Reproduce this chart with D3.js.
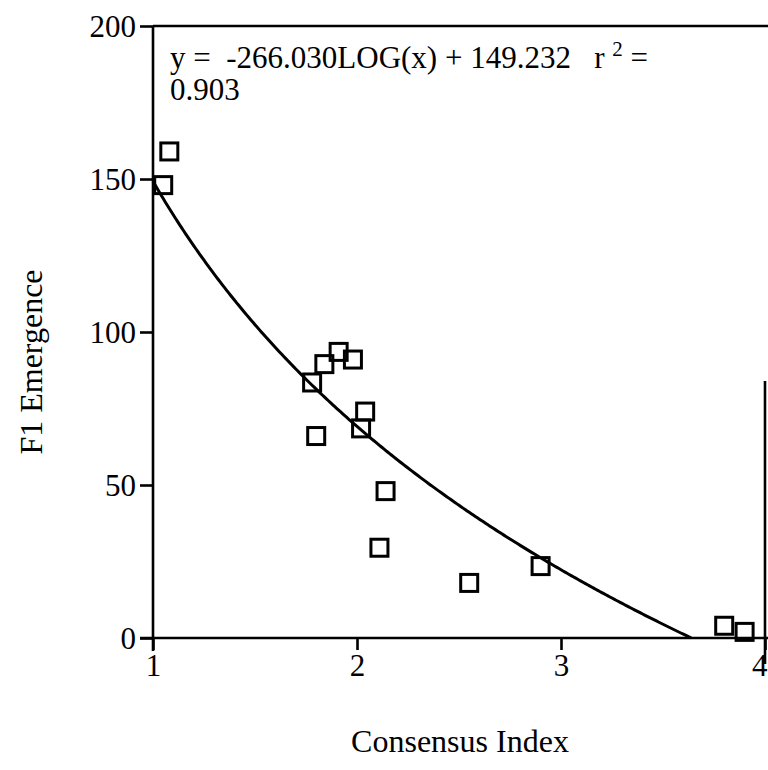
<!DOCTYPE html>
<html>
<head>
<meta charset="utf-8">
<script src="https://cdn.jsdelivr.net/npm/d3@7"></script>
<style>
  html, body { margin: 0; padding: 0; background: #fff; }
  svg text { font-family: "Liberation Serif", "Times New Roman", serif; fill: #000; white-space: pre; }
</style>
</head>
<body>
<svg id="chart" width="768" height="770"></svg>
<script>
// Consensus index vs. F1 emergence observations
const consensusIndex = [1.05, 1.08, 1.78, 1.80, 1.84, 1.91, 1.98, 2.02, 2.04, 2.14, 2.11, 2.55, 2.90, 3.80, 3.90];
const f1Emergence    = [148, 159, 83.5, 66, 89.5, 93.5, 91, 68.5, 74, 48, 29.5, 18, 23.5, 4, 2];

// Logarithmic fit: y = a*log10(x) + b
const fitSlope = -266.030;
const fitIntercept = 149.232;
const fitR2 = "0.903";

const xTicks = [1, 2, 3, 4];
const yTicks = [0, 50, 100, 150, 200];

const svg = d3.select("#chart");
const plot = { left: 153, right: 765, top: 26, bottom: 638 };

const x = d3.scaleLinear().domain([1, 4]).range([plot.left, plot.right]);
const y = d3.scaleLinear().domain([0, 200]).range([plot.bottom, plot.top]);

const axisStroke = 2.6;
const fontSize = "31px";

// Frame: top edge and lower part of right edge
svg.append("line")
  .attr("x1", x(1)).attr("x2", 768)
  .attr("y1", y(200)).attr("y2", y(200))
  .attr("stroke", "#000").attr("stroke-width", axisStroke);
svg.append("line")
  .attr("x1", x(4)).attr("x2", x(4))
  .attr("y1", y(84)).attr("y2", y(0) + 26)
  .attr("stroke", "#000").attr("stroke-width", axisStroke);

// Y axis
const yAxis = d3.axisLeft(y).tickValues(yTicks).tickSize(13).tickPadding(4).tickFormat(d3.format("d"));
const gy = svg.append("g").attr("transform", `translate(${x(1)},0)`).call(yAxis);
gy.select(".domain").attr("stroke", "#000").attr("stroke-width", axisStroke)
  .attr("d", `M0,${y(200)}V${y(0) + 13}`);
gy.selectAll(".tick line").attr("stroke", "#000").attr("stroke-width", axisStroke);
gy.selectAll(".tick text").style("font-size", fontSize).attr("dy", "0.34em");

// X axis (last label kept inside the right edge)
const xAxis = d3.axisBottom(x).tickValues(xTicks).tickSize(12).tickPadding(4).tickFormat(d3.format("d"));
const gx = svg.append("g").attr("transform", `translate(0,${y(0)})`).call(xAxis);
gx.select(".domain").attr("stroke", "#000").attr("stroke-width", axisStroke)
  .attr("d", `M${x(1) - 13},0H768`);
gx.selectAll(".tick line").attr("stroke", "#000").attr("stroke-width", axisStroke);
gx.selectAll(".tick text").style("font-size", fontSize).attr("dy", "0.72em")
  .attr("text-anchor", d => d === 4 ? "end" : "middle")
  .attr("x", d => d === 4 ? 2 : 0);

// Fitted curve, drawn from x = 1 down to where it meets zero
const xZero = Math.pow(10, -fitIntercept / fitSlope);
const curveX = d3.range(1, xZero, 0.01).concat([xZero]);
const line = d3.line()
  .x(d => x(d))
  .y(d => y(fitSlope * Math.log10(d) + fitIntercept));
svg.append("path")
  .datum(curveX)
  .attr("d", line)
  .attr("fill", "none")
  .attr("stroke", "#000")
  .attr("stroke-width", 3);

// Observations as open squares
const side = 17;
svg.append("g").selectAll("rect")
  .data(consensusIndex.map((c, i) => ({ c, f: f1Emergence[i] })))
  .join("rect")
  .attr("x", d => x(d.c) - side / 2)
  .attr("y", d => y(d.f) - side / 2)
  .attr("width", side).attr("height", side)
  .attr("fill", "none")
  .attr("stroke", "#000")
  .attr("stroke-width", 3);

// Fit equation
const eqX = x(1) + 17;
const eq = svg.append("text").attr("x", eqX).attr("y", 68).style("font-size", "31px");
eq.append("tspan").text(`y =  ${fitSlope.toFixed(3)}LOG(x) + ${fitIntercept.toFixed(3)}   r `);
eq.append("tspan").attr("dy", -12).style("font-size", "21px").text("2");
eq.append("tspan").attr("dy", 12).text(" =");
svg.append("text").attr("x", eqX).attr("y", 100).style("font-size", "31px").text(fitR2);

// Axis titles
svg.append("text")
  .attr("x", 460).attr("y", 752)
  .attr("text-anchor", "middle")
  .style("font-size", "32px")
  .text("Consensus Index");
svg.append("text")
  .attr("transform", "translate(42,362) rotate(-90)")
  .attr("text-anchor", "middle")
  .style("font-size", "32px")
  .text("F1 Emergence");
</script>
</body>
</html>
